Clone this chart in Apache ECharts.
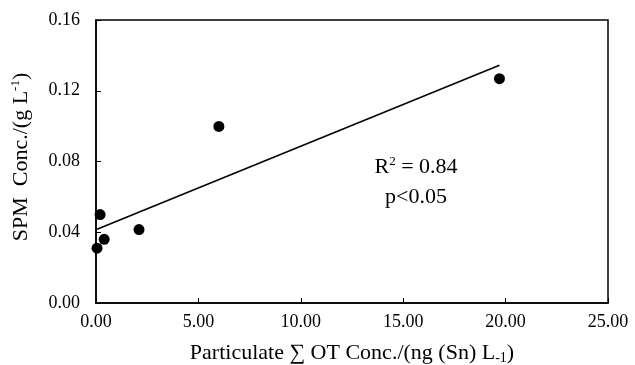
<!DOCTYPE html>
<html>
<head>
<meta charset="utf-8">
<script src="https://cdn.jsdelivr.net/npm/echarts@6/dist/echarts.min.js"></script>
<style>
  html, body { margin: 0; padding: 0; background: #fff; }
  #chart { width: 635px; height: 365px; }
</style>
</head>
<body>
<div id="chart"></div>
<script>
// particulate OT conc. vs SPM conc.
const otConc = [0.05, 0.2, 0.4, 2.1, 6.0, 19.7]
const spmConc = [0.031, 0.050, 0.036, 0.0415, 0.0998, 0.1268]

// fitted trend line ends, as drawn
const fitX = [0.05, 19.7]
const fitY = [0.0417, 0.1344]

const xTicks = { min: 0, max: 25, step: 5 }
const yTicks = { min: 0, max: 0.16, step: 0.04 }

const FONT = "'Liberation Serif', 'Times New Roman', serif"

const chart = echarts.init(document.getElementById("chart"), null, { renderer: "canvas" })

const axisCommon = {
  axisLine: { show: true, lineStyle: { color: "#000", width: 1.5 } },
  axisTick: { show: true, inside: true, length: 5, lineStyle: { color: "#000", width: 1 } },
  splitLine: { show: false },
}

// raised small text for the exponents
const supStyle = { fontFamily: FONT, fontSize: 13, color: "#000", verticalAlign: "top", lineHeight: 13, padding: [0, 0, 10, 0] }

chart.setOption({
  backgroundColor: "#fff",
  animation: false,
  grid: {
    left: 96, right: 27, top: 20, bottom: 62,
    outerBoundsMode: "none",
    containLabel: false,
    show: true, borderColor: "#000", borderWidth: 1.5,
  },
  xAxis: {
    type: "value",
    min: xTicks.min, max: xTicks.max, interval: xTicks.step,
    ...axisCommon,
    axisLabel: {
      color: "#000", fontFamily: FONT, fontSize: 18, margin: 10,
      formatter: (v) => v.toFixed(2),
    },
    name: "Particulate \u2211 OT Conc./(ng (Sn) L{sub|-1})",
    nameLocation: "middle",
    nameGap: 38,
    nameTextStyle: {
      color: "#000", fontFamily: FONT, fontSize: 22, lineHeight: 24,
      rich: { sub: { fontFamily: FONT, fontSize: 14, color: "#000", verticalAlign: "bottom", lineHeight: 14, padding: [6, 0, 0, 0] } },
    },
  },
  yAxis: {
    type: "value",
    min: yTicks.min, max: yTicks.max, interval: yTicks.step,
    ...axisCommon,
    axisLabel: {
      color: "#000", fontFamily: FONT, fontSize: 18, margin: 16,
      formatter: (v) => v.toFixed(2),
    },
    name: "SPM  Conc./(g L{sup|-1})",
    nameLocation: "middle",
    nameGap: 63,
    nameTextStyle: {
      color: "#000", fontFamily: FONT, fontSize: 22, lineHeight: 24,
      padding: [0, 0, 0, 9],
      rich: { sup: supStyle },
    },
  },
  graphic: [
    {
      type: "text", x: 416, y: 167,
      style: {
        text: "R{sup|2} = 0.84",
        font: "22px " + FONT, fill: "#000", lineHeight: 24,
        align: "center", verticalAlign: "middle",
        rich: { sup: { fontFamily: FONT, fontSize: 13, fill: "#000", verticalAlign: "top", lineHeight: 13, padding: [0, 0, 10, 0] } },
      },
    },
    {
      type: "text", x: 416, y: 197,
      style: {
        text: "p<0.05", font: "22px " + FONT, fill: "#000",
        align: "center", verticalAlign: "middle",
      },
    },
  ],
  series: [
    {
      type: "line",
      data: fitX.map((x, i) => [x, fitY[i]]),
      showSymbol: false,
      lineStyle: { color: "#000", width: 1.5 },
      z: 2,
    },
    {
      type: "scatter",
      data: otConc.map((x, i) => [x, spmConc[i]]),
      symbol: "circle",
      symbolSize: 11,
      itemStyle: { color: "#000", opacity: 1 },
      z: 3,
    },
  ],
})
</script>
</body>
</html>
